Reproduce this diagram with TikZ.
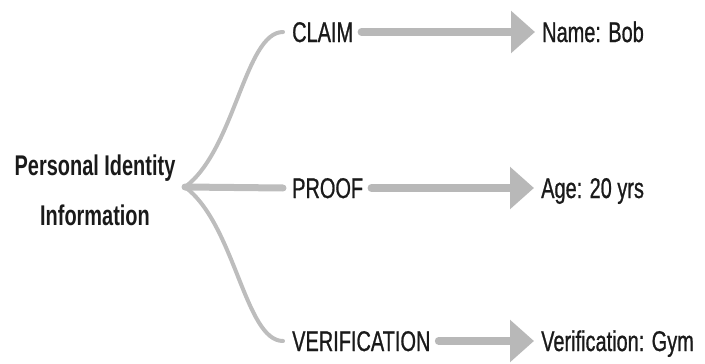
\documentclass[tikz,border=0pt]{standalone}
\usepackage{fontspec}
\setmainfont{Liberation Sans}
\newfontfamily\labelfont[FakeStretch=0.7, FakeBold=0.8]{Liberation Sans}
\newfontfamily\rootfont[FakeStretch=0.7]{Liberation Sans Bold}
\usetikzlibrary{arrows.meta}

\definecolor{ink}{HTML}{1A1A1A}
\definecolor{branchgray}{HTML}{BDBDBD}
\definecolor{arrowgray}{HTML}{B8B8B8}

\begin{document}
\begin{tikzpicture}[x=1pt,y=-1pt,
  lbl/.style={font=\labelfont\fontsize{28.5}{34}\selectfont, text=ink,
    inner sep=0pt, anchor=west, text height=20pt, text depth=0pt},
  rootlbl/.style={font=\rootfont\fontsize{28.5}{50}\selectfont,
    text=ink, inner sep=0pt, align=center},
  branch/.style={draw=branchgray, line width=4pt, line cap=round},
  stem/.style={draw=branchgray, line width=7pt, line cap=round},
  flow/.style={draw=arrowgray, line width=7.5pt, line cap=round,
    -{Triangle[length=24pt,width=41pt]}, shorten <=8pt, shorten >=7pt}]

\useasboundingbox (0,0) rectangle (705,364);

% root label and the point where the branches meet
\node[rootlbl] (pii) at (95,190) {Personal Identity\\Information};
\coordinate (hub) at (185,187);

% the three kinds of statement
\node[lbl] (claim) at (292,32)  {CLAIM};
\node[lbl] (proof) at (292,188) {PROOF};
\node[lbl] (verif) at (292,341) {VERIFICATION};

% their example values
\node[lbl] (name) at (542,32)  {Name: Bob};
\node[lbl] (age)  at (541,188) {Age: 20 yrs};
\node[lbl] (gym)  at (541,341) {Verification: Gym};

% branches from the root
\draw[branch] (hub) .. controls (235,150) and (245,32) .. ([xshift=-9pt]claim.west);
\draw[branch] (hub) .. controls (235,224) and (245,341) .. ([xshift=-9pt]verif.west);
\draw[stem] (hub) -- ([xshift=-9pt]proof.west);

% arrows to the values
\draw[flow] (claim.east) -- (name.west);
\draw[flow] (proof.east) -- (age.west);
\draw[flow] (verif.east) -- (gym.west);

\end{tikzpicture}
\end{document}
